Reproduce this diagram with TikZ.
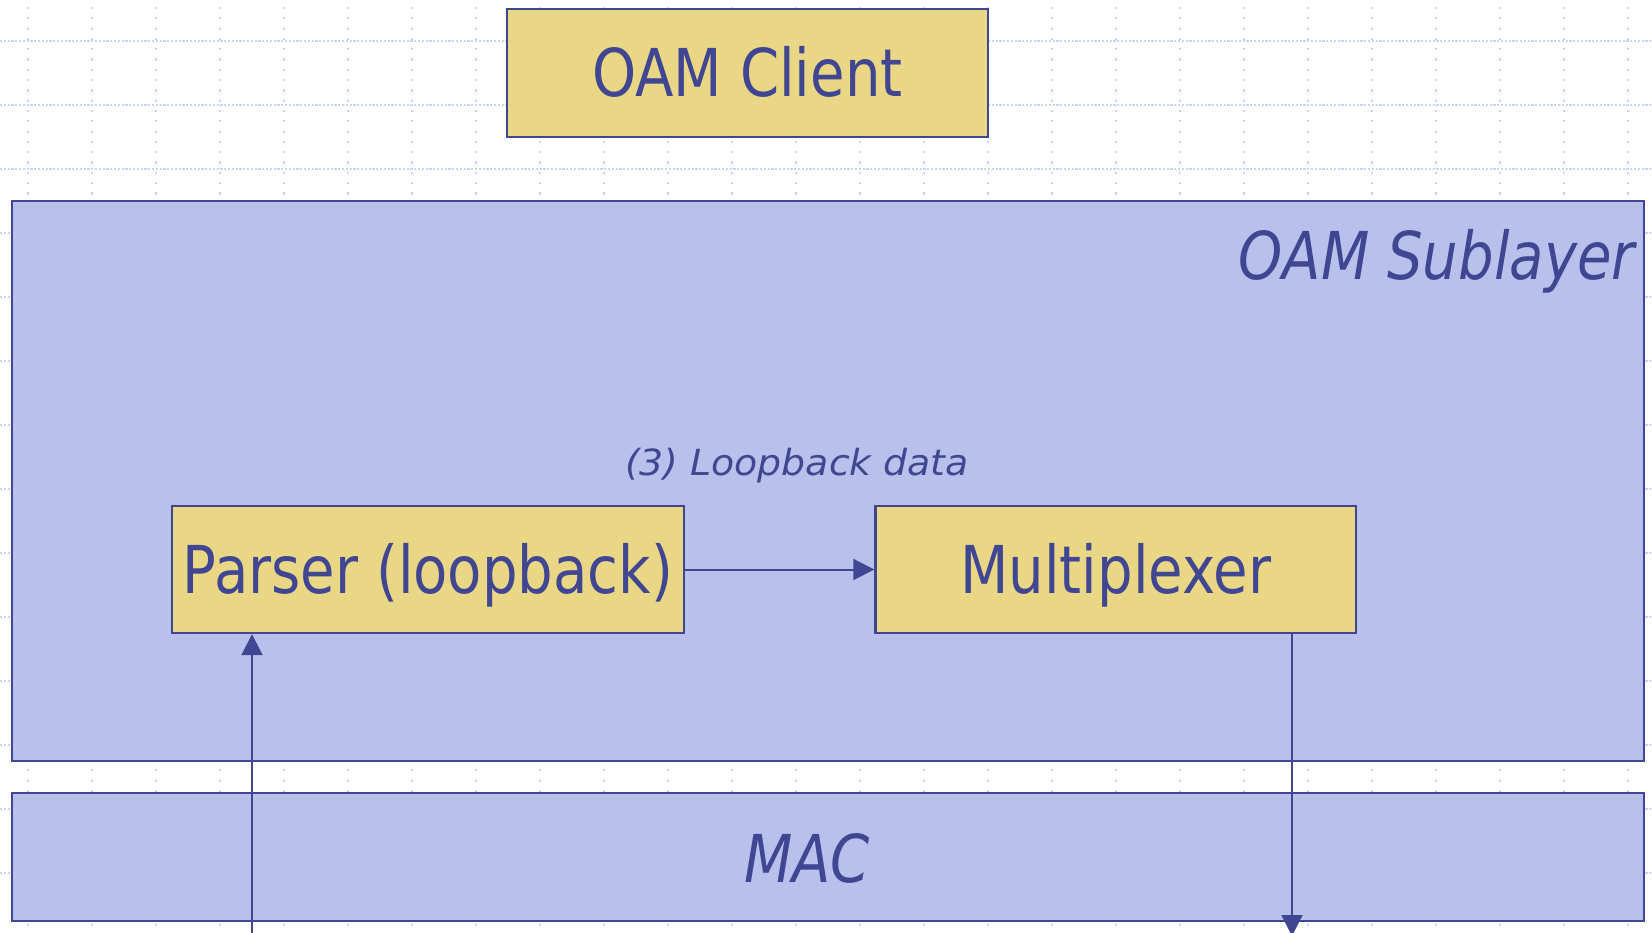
\documentclass[tikz,border=0pt]{standalone}
\usepackage{fontspec}
\setmainfont{DejaVu Sans}[FakeStretch=0.85]
\newfontfamily\labelfont{DejaVu Sans}[FakeStretch=1.05]
\usetikzlibrary{arrows.meta}
\definecolor{ink}{RGB}{64,70,145}
\definecolor{boxyellow}{RGB}{234,215,133}
\definecolor{layerblue}{RGB}{183,193,235}
\definecolor{gridblue}{RGB}{200,213,247}
\begin{document}
\begin{tikzpicture}[x=1pt,y=-1pt,
  bigtext/.style={font=\fontsize{66}{70}\selectfont, text=ink},
  ybox/.style={draw=ink, line width=2.4pt, fill=boxyellow, inner sep=0pt,
    text height=48pt, text depth=0pt, bigtext},
  layer/.style={draw=ink, line width=2.4pt, fill=layerblue, inner sep=0pt},
  arr/.style={draw=ink, line width=2pt, -{Triangle[length=21pt,width=21pt]}},
  gridv/.style={draw=gridblue, line width=2.2pt, dash pattern=on 2.2pt off 8.1pt},
  gridh/.style={draw=gridblue, line width=2.2pt, dash pattern=on 2.2pt off 1.6pt},
]
\useasboundingbox (0,0) rectangle (1652,933);
\fill[white] (0,0) rectangle (1652,933);
% background grid
\foreach \k in {0,...,25} {
  \draw[gridv] (28+64*\k,7) -- (28+64*\k,933);
}
\foreach \k in {0,...,13} {
  \draw[gridh] (0,41+64*\k) -- (1652,41+64*\k);
}
% layers
\node[layer, minimum width=1632pt, minimum height=560pt] (sub) at (828,481) {};
\node[layer, minimum width=1632pt, minimum height=128pt] (mac) at (828,857) {};
\node[bigtext, font=\fontsize{66}{70}\selectfont\itshape, anchor=base east, inner sep=0pt] (subtext) at (1635,280) {OAM Sublayer};
\node[bigtext, font=\fontsize{66}{70}\selectfont\itshape, anchor=base, inner sep=0pt] (mactext) at (807,882) {MAC};
% boxes
\node[ybox, minimum width=481pt, minimum height=128pt] (client) at (747.5,73) {OAM Client};
\node[ybox, minimum width=512pt, minimum height=127pt] (parser) at (428,569.5) {Parser (loopback)};
\node[ybox, minimum width=480.5pt, minimum height=127pt] (mux) at (1115.75,569.5) {Multiplexer};
% label
\node[text=ink, font=\labelfont\fontsize{36}{40}\selectfont\itshape, anchor=base, inner sep=0pt] (lbl) at (797,475.5) {(3) Loopback data};
% connectors
\coordinate (upstart) at (252,940);
\coordinate (downend) at (1292,936);
\draw[arr] (parser) -- (mux);
\draw[arr] (upstart) -- (upstart |- parser.south);
\draw[arr] (downend |- mux.south) -- (downend);
\end{tikzpicture}
\end{document}
